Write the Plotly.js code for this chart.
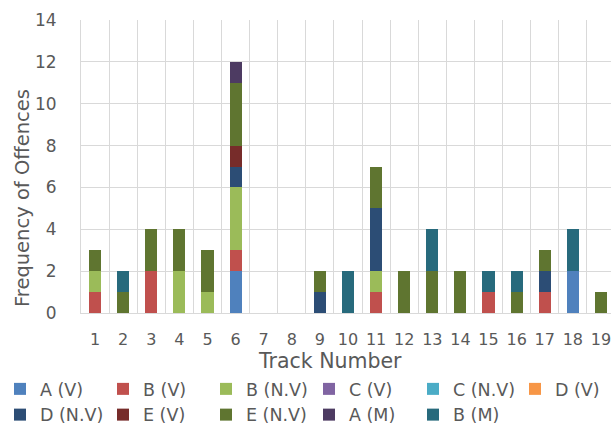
<!DOCTYPE html>
<html>
<head>
<meta charset="utf-8">
<script src="https://cdn.plot.ly/plotly-3.0.1.min.js"></script>
<style>
html,body{margin:0;padding:0;overflow:hidden;background:#fff;}
#chart{width:620px;height:424px;}
</style>
</head>
<body>
<div id="chart"></div>
<script>
const tracks = ["1","2","3","4","5","6","7","8","9","10","11","12","13","14","15","16","17","18","19"];
const seriesNames = ["A (V)","B (V)","B (N.V)","C (V)","C (N.V)","D (V)","D (N.V)","E (V)","E (N.V)","A (M)","B (M)"];
const A_V   = [0,0,0,0,0,2,0,0,0,0,0,0,0,0,0,0,0,2,0];
const B_V   = [1,0,2,0,0,1,0,0,0,0,1,0,0,0,1,0,1,0,0];
const B_NV  = [1,0,0,2,1,3,0,0,0,0,1,0,0,0,0,0,0,0,0];
const C_V   = [0,0,0,0,0,0,0,0,0,0,0,0,0,0,0,0,0,0,0];
const C_NV  = [0,0,0,0,0,0,0,0,0,0,0,0,0,0,0,0,0,0,0];
const D_V   = [0,0,0,0,0,0,0,0,0,0,0,0,0,0,0,0,0,0,0];
const D_NV  = [0,0,0,0,0,1,0,0,1,0,3,0,0,0,0,0,1,0,0];
const E_V   = [0,0,0,0,0,1,0,0,0,0,0,0,0,0,0,0,0,0,0];
const E_NV  = [1,1,2,2,2,3,0,0,1,0,2,2,2,2,0,1,1,0,1];
const A_M   = [0,0,0,0,0,1,0,0,0,0,0,0,0,0,0,0,0,0,0];
const B_M   = [0,1,0,0,0,0,0,0,0,2,0,0,2,0,1,1,0,2,0];
const yTicks = [0,2,4,6,8,10,12,14];

const values = [A_V,B_V,B_NV,C_V,C_NV,D_V,D_NV,E_V,E_NV,A_M,B_M];
const colors = ["#4F81BD","#C0504D","#9BBB59","#8064A2","#4BACC6","#F79646","#2C4D75","#772C2A","#5F7530","#4D3B62","#276A7C"];
const legendOf = ["legend","legend2","legend3","legend4","legend5","legend6","legend","legend2","legend3","legend4","legend5"];

const FONT = "'DejaVu Sans', sans-serif";
const GRAY = "#595959";

const traces = seriesNames.map((n,i)=>({
  type:"bar", name:n, x:tracks, y:values[i],
  marker:{color:colors[i], line:{width:0}},
  legend:legendOf[i], hoverinfo:"skip"
}));

const W = 620;
const legendBase = {orientation:"v", xref:"container", yref:"container", xanchor:"left", yanchor:"top",
  y:1-(371/424), font:{family:FONT,size:17.5,color:GRAY}, bgcolor:"rgba(0,0,0,0)", borderwidth:0,
  traceorder:"normal", tracegroupgap:0, itemclick:false, itemdoubleclick:false};
const colX = [0,103,206,309,413,515];
const layout = {
  width:W, height:424,
  margin:{l:81, r:5, t:20, b:111, autoexpand:false},
  paper_bgcolor:"#fff", plot_bgcolor:"#fff",
  barmode:"stack", bargap:0.57,
  font:{family:FONT, color:GRAY, size:16},
  xaxis:{type:"category", tickson:"boundaries", showgrid:true, gridcolor:"#D9D9D9", gridwidth:1,
    showline:true, linecolor:"#D9D9D9", linewidth:1, ticks:"", ticklen:0, tickangle:0, automargin:false,
    tickfont:{family:FONT,size:16,color:GRAY}, ticklabelstandoff:12, fixedrange:true},
  yaxis:{range:[0,14], tickvals:yTicks, showgrid:true, gridcolor:"#D9D9D9", gridwidth:1,
    showline:true, linecolor:"#D9D9D9", linewidth:1, ticks:"", zeroline:false, automargin:false,
    tickfont:{family:FONT,size:17,color:GRAY}, ticklabelstandoff:20, fixedrange:true},
  annotations:[
    {text:"Track Number", xref:"paper", yref:"paper", x:(330-81)/534, y:(313-361)/293,
     showarrow:false, xanchor:"center", yanchor:"middle", font:{family:FONT,size:20.5,color:GRAY}},
    {text:"Frequency of Offences", xref:"paper", yref:"paper", x:(23-81)/534, y:(313-198)/293,
     textangle:-90, showarrow:false, xanchor:"center", yanchor:"middle", font:{family:FONT,size:19.5,color:GRAY}}
  ],
  showlegend:true,
  legend: Object.assign({}, legendBase, {x:colX[0]/W}),
  legend2: Object.assign({}, legendBase, {x:colX[1]/W}),
  legend3: Object.assign({}, legendBase, {x:colX[2]/W}),
  legend4: Object.assign({}, legendBase, {x:colX[3]/W}),
  legend5: Object.assign({}, legendBase, {x:colX[4]/W}),
  legend6: Object.assign({}, legendBase, {x:colX[5]/W})
};
Plotly.newPlot("chart", traces, layout, {displayModeBar:false, staticPlot:true});
</script>
</body>
</html>
